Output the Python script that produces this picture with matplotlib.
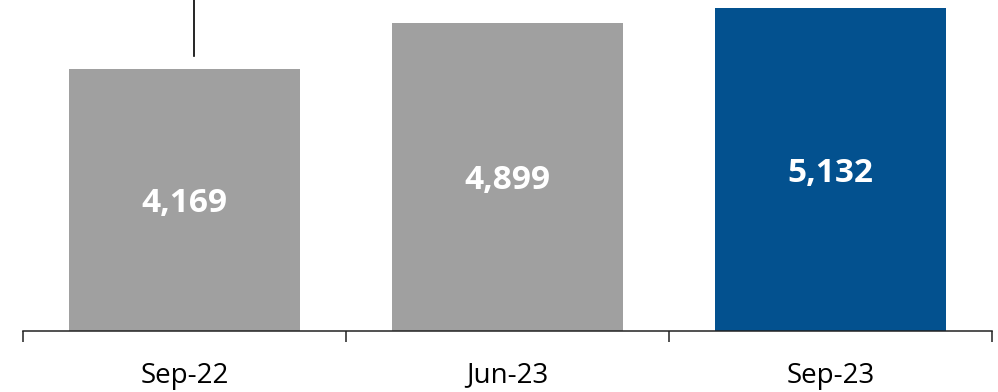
import matplotlib
matplotlib.use('Agg')
import numpy as np
import matplotlib.pyplot as plt

# chart data
categories = ['Sep-22', 'Jun-23', 'Sep-23']
values = [4169, 4899, 5132]
bar_colors = ['#a0a0a0', '#a0a0a0', '#03518f']

plt.rcParams['font.family'] = ['Open Sans', 'DejaVu Sans']

fig = plt.figure(figsize=(9.98, 3.92), dpi=100)
ax = fig.add_axes([23 / 998, 61 / 392, 969 / 998, 331 / 392])

x = np.arange(len(categories))
ax.bar(x, values, width=0.715, color=bar_colors, zorder=2)

# value labels centred in each bar
for xi, v in zip(x, values):
    ax.text(xi, v / 2, f'{v:,}', ha='center', va='center_baseline',
            color='white', fontsize=24, fontweight='bold')

ax.set_xlim(-0.5, len(categories) - 0.5)
ax.set_ylim(0, 5260)

# leftover connector line above the first bar
ax.plot([x[0] + 0.03, x[0] + 0.03], [values[0] + 200, 5260],
        color='black', lw=1.2, clip_on=False)

for s in ['top', 'right', 'left']:
    ax.spines[s].set_visible(False)
ax.spines['bottom'].set_linewidth(1.1)
ax.spines['bottom'].set_color('#222222')
ax.set_yticks([])

# ticks at category boundaries, labels at centres
ax.set_xticks(np.arange(-0.5, len(categories)), labels=[''] * (len(categories) + 1))
ax.set_xticks(x, labels=categories, minor=True)
ax.tick_params(axis='x', which='major', length=8, width=1.1, color='#222222', direction='out')
ax.tick_params(axis='x', which='minor', length=0, pad=22, labelsize=20)

fig.savefig('out.png', dpi=100)
